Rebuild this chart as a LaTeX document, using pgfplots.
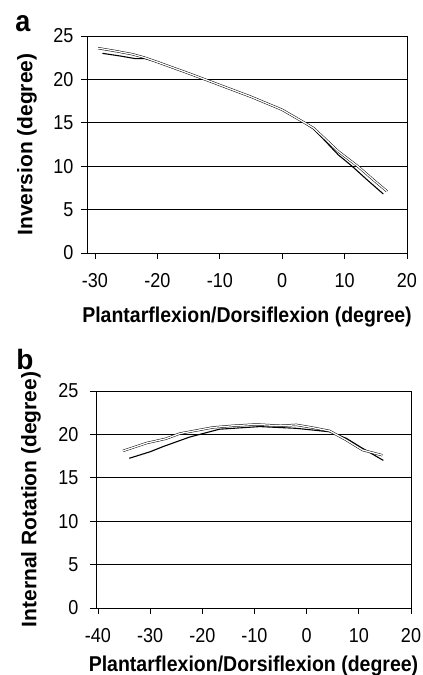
\documentclass[border=0pt]{standalone}
\usepackage{pgfplots}
\pgfplotsset{compat=1.18}
\usepackage{fontspec}
\setmainfont{Liberation Sans}

\pgfplotstableread{
x y
-29.5 23.6
-27.0 23.3
-24.0 22.9
-22.0 22.5
-20.0 22.0
-15.0 20.7
-12.4 20.0
-10.0 19.35
-5.0 18.0
0.0 16.5
3.6 15.0
5.0 14.4
6.5 13.4
9.0 11.7
12.1 10.0
14.5 8.5
16.8 7.1
}\invA
\pgfplotstableread{
x y
-28.8 23.0
-26.0 22.7
-23.6 22.4
-22.0 22.4
-20.0 22.0
-15.0 20.7
-12.4 20.0
-10.0 19.35
-5.0 18.0
0.0 16.5
3.6 15.0
5.0 14.3
6.5 13.2
9.0 11.3
11.2 10.0
13.5 8.5
16.2 6.8
}\invB
\pgfplotstableread{
x y
-35.2 18.1
-30.7 19.0
-27.0 19.5
-24.3 20.1
-18.0 20.8
-14.0 21.0
-9.7 21.15
-5.0 21.0
-2.0 21.1
1.0 20.8
4.4 20.4
7.6 19.35
10.7 18.2
14.5 17.6
}\irA
\pgfplotstableread{
x y
-34.0 17.25
-30.0 18.0
-27.5 18.6
-22.4 19.7
-16.7 20.6
-9.0 20.9
-2.0 20.7
4.4 20.3
7.6 19.55
10.7 18.4
14.7 17.0
}\irB

\pgfplotsset{
  refstyle/.style={
    scale only axis,
    ymin=0, ymax=25,
    ytick={0,5,10,15,20,25},
    yticklabels={0,5,10,15,20,25},
    ymajorgrids,
    major grid style={black, line width=0.8pt},
    axis line style={black, line width=0.7pt},
    tick style={black, line width=0.7pt},
    tick align=outside,
    major tick length=6pt,
    xtick pos=bottom, ytick pos=left,
    tick label style={font=\fontsize{18}{18}\selectfont, yscale=1.12},
    xticklabel style={yshift=-9pt},
    xlabel style={font=\bfseries\fontsize{19.5}{19.5}\selectfont, yscale=1.1,
      at={(axis description cs:0.5,0)}, anchor=center},
    ylabel style={font=\bfseries\fontsize{21}{21}\selectfont,
      at={(axis description cs:0,0.5)}, anchor=center, rotate=0},
    clip=false,
  },
  dbl/.style={black, line width=0.5pt, double=white, double distance=1.3pt, no marks},
  sgl/.style={black, line width=1.1pt, no marks},
}

\begin{document}
\begin{tikzpicture}[x=1pt,y=1pt]
\useasboundingbox (0,0) rectangle (423,675);
\node[font=\bfseries\fontsize{27}{27}\selectfont, yscale=1.1] at (23,651) {a};
\node[font=\bfseries\fontsize{28}{28}\selectfont] at (25,316) {b};

\begin{axis}[refstyle,
  at={(87pt,422pt)}, anchor=south west,
  width=320pt, height=217pt,
  xmin=-31.28, xmax=20,
  xtick={-30,-20,-10,0,10,20},
  xticklabels={-30,-20,-10,0,10,20},
  xlabel={Plantarflexion/Dorsiflexion (degree)},
  xlabel style={yshift=-58pt},
  ylabel={Inversion (degree)},
  ylabel style={yshift=60pt},
  yticklabel style={xshift=-4pt},
]
\addplot[sgl] table {\invB};
\addplot[dbl] table {\invA};
\end{axis}

\begin{axis}[refstyle,
  at={(96pt,67pt)}, anchor=south west,
  width=315pt, height=217pt,
  xmin=-40.38, xmax=20,
  xtick={-40,-30,-20,-10,0,10,20},
  xticklabels={-40,-30,-20,-10,0,10,20},
  xlabel={Plantarflexion/Dorsiflexion (degree)},
  xlabel style={yshift=-53pt},
  ylabel={Internal Rotation (degree)},
  ylabel style={yshift=65pt},
  yticklabel style={xshift=-8pt},
]
\addplot[sgl] table {\irB};
\addplot[dbl] table {\irA};
\end{axis}
\end{tikzpicture}
\end{document}
